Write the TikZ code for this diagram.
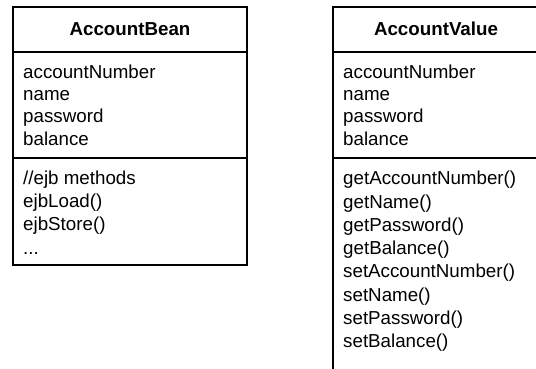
\documentclass[tikz,border=0pt]{standalone}
\usepackage{fontspec}
\setmainfont{Liberation Sans}
\begin{document}
\begin{tikzpicture}[x=1pt,y=-1pt,
  box/.style={line width=2pt},
  txt/.style={anchor=base west, inner sep=0pt, font=\fontsize{18.75}{22.5}\selectfont},
  ttl/.style={anchor=base, inner sep=0pt, font=\fontsize{18.75}{22.5}\selectfont\bfseries}]
\useasboundingbox (0,0) rectangle (536,368);
\clip (0,0) rectangle (536,368);
% AccountBean
\draw[box] (13,7) rectangle (247,265);
\draw[box] (13,52) -- (247,52);
\draw[box] (13,158) -- (247,158);
\node[ttl] (beanT) at (130,35) {AccountBean};
\node[txt] (beanA1) at (23,78) {accountNumber};
\node[txt] (beanA2) at (23,100.4) {name};
\node[txt] (beanA3) at (23,122.8) {password};
\node[txt] (beanA4) at (23,145.2) {balance};
\node[txt] (beanM1) at (23,184.7) {//ejb methods};
\node[txt] (beanM2) at (23,207.8) {ejbLoad()};
\node[txt] (beanM3) at (23,230.9) {ejbStore()};
\node[txt] (beanM4) at (23,254.0) {...};
% AccountValue
\draw[box] (333,7) rectangle (539,390);
\draw[box] (333,52) -- (539,52);
\draw[box] (333,158) -- (539,158);
\node[ttl] (valT) at (436,35) {AccountValue};
\node[txt] (valA1) at (343,78) {accountNumber};
\node[txt] (valA2) at (343,100.4) {name};
\node[txt] (valA3) at (343,122.8) {password};
\node[txt] (valA4) at (343,145.2) {balance};
\node[txt] (valM1) at (343,184.7) {getAccountNumber()};
\node[txt] (valM2) at (343,208.0) {getName()};
\node[txt] (valM3) at (343,231.3) {getPassword()};
\node[txt] (valM4) at (343,254.6) {getBalance()};
\node[txt] (valM5) at (343,277.9) {setAccountNumber()};
\node[txt] (valM6) at (343,301.2) {setName()};
\node[txt] (valM7) at (343,324.5) {setPassword()};
\node[txt] (valM8) at (343,347.8) {setBalance()};
\end{tikzpicture}
\end{document}
